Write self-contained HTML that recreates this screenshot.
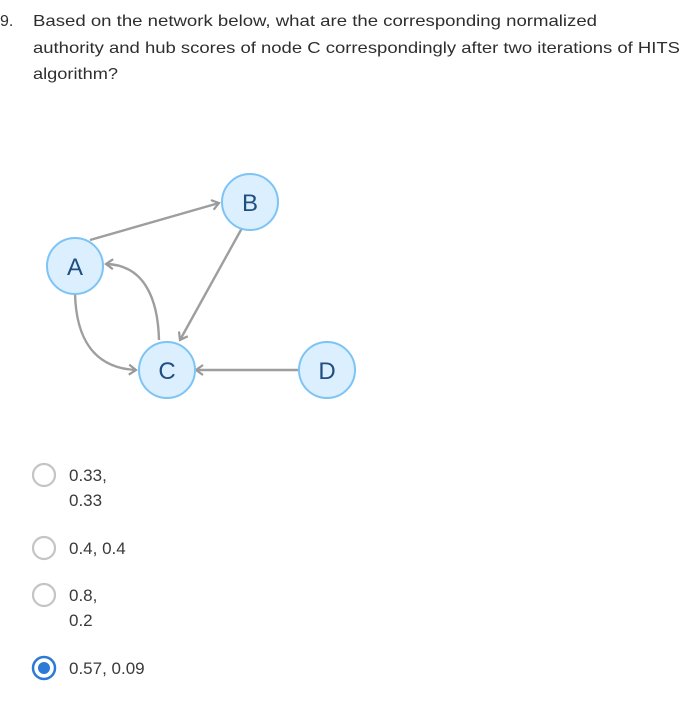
<!DOCTYPE html>
<html><head><meta charset="utf-8"><style>
html,body{margin:0;padding:0;background:#fff;}
svg{display:block;}
</style></head><body>
<svg width="700" height="703" viewBox="0 0 700 703" xmlns="http://www.w3.org/2000/svg">
<defs>
<marker id="ar" markerWidth="12" markerHeight="12" refX="9" refY="6" orient="auto" markerUnits="userSpaceOnUse">
<polyline points="2,1 9,6 2,11" fill="none" stroke="#999" stroke-width="2.2"/>
</marker>
</defs>
<g font-family="Liberation Sans, sans-serif" font-size="16" fill="#2e2e2e">
<text x="0" y="26">9.</text>
<text x="33" y="26" textLength="564" lengthAdjust="spacingAndGlyphs">Based on the network below, what are the corresponding normalized</text>
<text x="33" y="53" textLength="647" lengthAdjust="spacingAndGlyphs">authority and hub scores of node C correspondingly after two iterations of HITS</text>
<text x="33" y="79" textLength="85" lengthAdjust="spacingAndGlyphs">algorithm?</text>
</g>
<g fill="none" stroke="#9e9e9e" stroke-width="2.4">
<line x1="90" y1="240" x2="219" y2="203" marker-end="url(#ar)"/>
<line x1="242" y1="228" x2="180" y2="340" marker-end="url(#ar)"/>
<line x1="298" y1="370" x2="196" y2="370" marker-end="url(#ar)"/>
<path d="M159,340 C158,300 145,265 106,264" marker-end="url(#ar)"/>
<path d="M75,293 C76,340 95,368 136,370" marker-end="url(#ar)"/>
</g>
<g fill="#dcefff" stroke="#7cc4f5" stroke-width="2">
<circle cx="75" cy="266" r="28"/>
<circle cx="250" cy="202" r="28"/>
<circle cx="167" cy="370" r="28"/>
<circle cx="327" cy="370" r="28"/>
</g>
<g font-family="Liberation Sans, sans-serif" font-size="24" fill="#1f4f80" text-anchor="middle">
<text x="75" y="275">A</text>
<text x="250" y="211">B</text>
<text x="167" y="379">C</text>
<text x="327" y="379">D</text>
</g>
<g fill="none" stroke="#c4c4c4" stroke-width="2.2">
<circle cx="44" cy="475" r="11"/>
<circle cx="44" cy="548" r="11"/>
<circle cx="44" cy="595" r="11"/>
</g>
<circle cx="44" cy="668" r="11" fill="#fff" stroke="#2a7ad6" stroke-width="2.5"/>
<circle cx="44" cy="668" r="6" fill="#2a7ad6"/>
<g font-family="Liberation Sans, sans-serif" font-size="17" fill="#3a3a3a">
<text x="69" y="481">0.33,</text>
<text x="69" y="506">0.33</text>
<text x="69" y="554">0.4, 0.4</text>
<text x="69" y="601">0.8,</text>
<text x="69" y="626">0.2</text>
<text x="69" y="674">0.57, 0.09</text>
</g>
</svg>
</body></html>
